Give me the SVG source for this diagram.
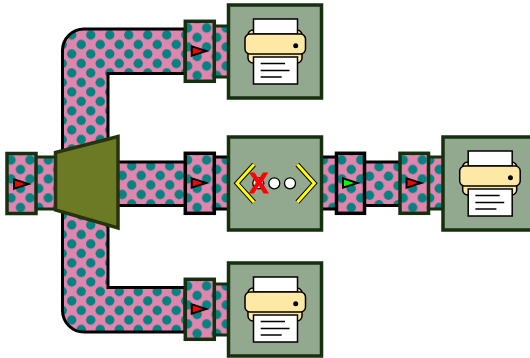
<svg xmlns="http://www.w3.org/2000/svg" width="530" height="358" viewBox="0 0 530 358">
<defs>
<pattern id="base" patternUnits="userSpaceOnUse" width="19" height="19"><rect width="19" height="19" fill="#e085ad"/><circle cx="4.750" cy="4.750" r="4.700" fill="#058282"/><circle cx="14.250" cy="14.250" r="4.700" fill="#058282"/></pattern>
<pattern id="d-main" href="#base" x="67" y="30.250"/>
<pattern id="d-lbox" href="#base" x="6.250" y="155.250"/>
<pattern id="d-lcon" href="#base" x="43.500" y="155.250"/>
<pattern id="d-pipe" href="#base" x="126.950" y="161.250"/>
<pattern id="d-tbox" href="#base" x="182.850" y="23.250"/>
<pattern id="d-mbox" href="#base" x="182.850" y="155.250"/>
<pattern id="d-bbox" href="#base" x="182.850" y="281.250"/>
<pattern id="d-tcon" href="#base" x="221.500" y="23.250"/>
<pattern id="d-mcon" href="#base" x="221.500" y="155.250"/>
<pattern id="d-bcon" href="#base" x="221.500" y="281.250"/>
<pattern id="d-rcon1" href="#base" x="318.500" y="155.250"/>
<pattern id="d-gbox" href="#base" x="337" y="155.250"/>
<pattern id="d-pipe2" href="#base" x="374.250" y="162"/>
<pattern id="d-rbox" href="#base" x="398.500" y="155.250"/>
<pattern id="d-rcon2" href="#base" x="425" y="155.250"/>
<g id="printer">
<rect x="248" y="30" width="54" height="33" rx="5" class="yel"/>
<rect x="253.500" y="19" width="44" height="15" class="paper"/>
<rect x="245" y="34" width="60.500" height="20" rx="5" class="yel"/>
<circle cx="295.700" cy="45.700" r="2.500" fill="#000"/>
<rect x="253.500" y="57" width="44" height="27" class="paper"/>
<path d="M260.700 63.500H285M260.700 70.500H289.500M260.700 77H281.700" fill="none" stroke="#000" stroke-width="1.300"/>
</g>
<path id="tri" d="M0 -4.700V4.700L14.500 0Z" stroke="#000" stroke-width="2"/>
</defs>
<style>
.c{stroke-width:3}
.b{stroke-width:3.500}
.g{stroke:#14300f}
.k{stroke:#000}
.box{fill:#93a98f;stroke:#14300f;stroke-width:3.500}
.yel{fill:#fde9a5;stroke:#000;stroke-width:1.500}
.paper{fill:#fff;stroke:#000;stroke-width:1.500}
.chev{fill:none}
.dot{fill:#fff;stroke:#000;stroke-width:1.300}
</style>
<g id="connectors">
<path class="c k" fill="url(#d-main)" d="M185 29H84A21.500 21.500 0 0 0 62.500 50.500V310.500A21.500 21.500 0 0 0 84 332H185V287.500H108V73.500H185Z"/>
<rect class="c g" fill="url(#d-lcon)" x="35" y="157" width="21" height="52"/>
<rect class="c k" fill="url(#d-pipe)" x="117" y="162" width="69" height="43.500"/>
<rect class="c g" fill="url(#d-tcon)" x="213" y="26" width="16" height="51"/>
<rect class="c k" fill="url(#d-mcon)" x="213" y="157" width="16" height="52"/>
<rect class="c g" fill="url(#d-bcon)" x="213" y="284" width="16" height="51"/>
<rect class="c k" fill="url(#d-rcon1)" x="321" y="157" width="16" height="52"/>
<rect class="c k" fill="url(#d-pipe2)" x="364" y="162" width="37" height="43.500"/>
<rect class="c g" fill="url(#d-rcon2)" x="428" y="157" width="16" height="52"/>
</g>
<g id="valve-left"><rect class="b g" fill="url(#d-lbox)" x="7" y="153.500" width="29" height="60"/><use href="#tri" x="14" y="184" fill="#f00"/></g>
<g id="splitter"><path d="M55.500 152.500L118 136.500V228L55.500 210Z" fill="#6b7a23" stroke="#27330f" stroke-width="3.500"/></g>
<g id="valve-top"><rect class="b g" fill="url(#d-tbox)" x="185.300" y="21.300" width="29" height="60"/><use href="#tri" x="191.700" y="51" fill="#f00"/></g>
<g id="valve-mid"><rect class="b k" fill="url(#d-mbox)" x="185.300" y="153.300" width="29" height="60"/><use href="#tri" x="191.700" y="183" fill="#f00"/></g>
<g id="valve-bot"><rect class="b g" fill="url(#d-bbox)" x="185.300" y="279.300" width="29" height="60"/><use href="#tri" x="191.700" y="309" fill="#f00"/></g>
<g id="printer-top"><rect class="box" x="228.500" y="5" width="93" height="93"/><use href="#printer"/></g>
<g id="hub"><rect class="box" x="228.500" y="137" width="93" height="93"/>
<path class="chev" d="M254 164.500L237 183.300L254 202.200M297.300 164.500L314.300 183.300L297.300 202.200" stroke="#000" stroke-width="5"/>
<path class="chev" d="M254 164.500L237 183.300L254 202.200M297.300 164.500L314.300 183.300L297.300 202.200" stroke="#ff0" stroke-width="3"/>
<circle class="dot" cx="258.300" cy="183.300" r="5.500"/>
<circle class="dot" cx="274.300" cy="183.300" r="5.500"/>
<circle class="dot" cx="290" cy="183.300" r="5.500"/>
<text x="258.800" y="192.800" text-anchor="middle" font-family="'Liberation Sans',Arial,sans-serif" font-weight="700" font-size="29" fill="#f00" stroke="#f00" stroke-width="0.800">X</text>
</g>
<g id="printer-bot"><rect class="box" x="228.500" y="263" width="93" height="93"/><use href="#printer" y="258"/></g>
<g id="valve-green"><rect class="b k" fill="url(#d-gbox)" x="336.500" y="153.300" width="28" height="60"/><use href="#tri" x="343" y="183" fill="#0f0"/></g>
<g id="valve-red"><rect class="b g" fill="url(#d-rbox)" x="400" y="153.300" width="28.500" height="60"/><use href="#tri" x="406.500" y="183" fill="#f00"/></g>
<g id="printer-right"><rect class="box" x="443" y="137" width="93" height="93"/><use href="#printer" x="214.700" y="132"/></g>
</svg>
